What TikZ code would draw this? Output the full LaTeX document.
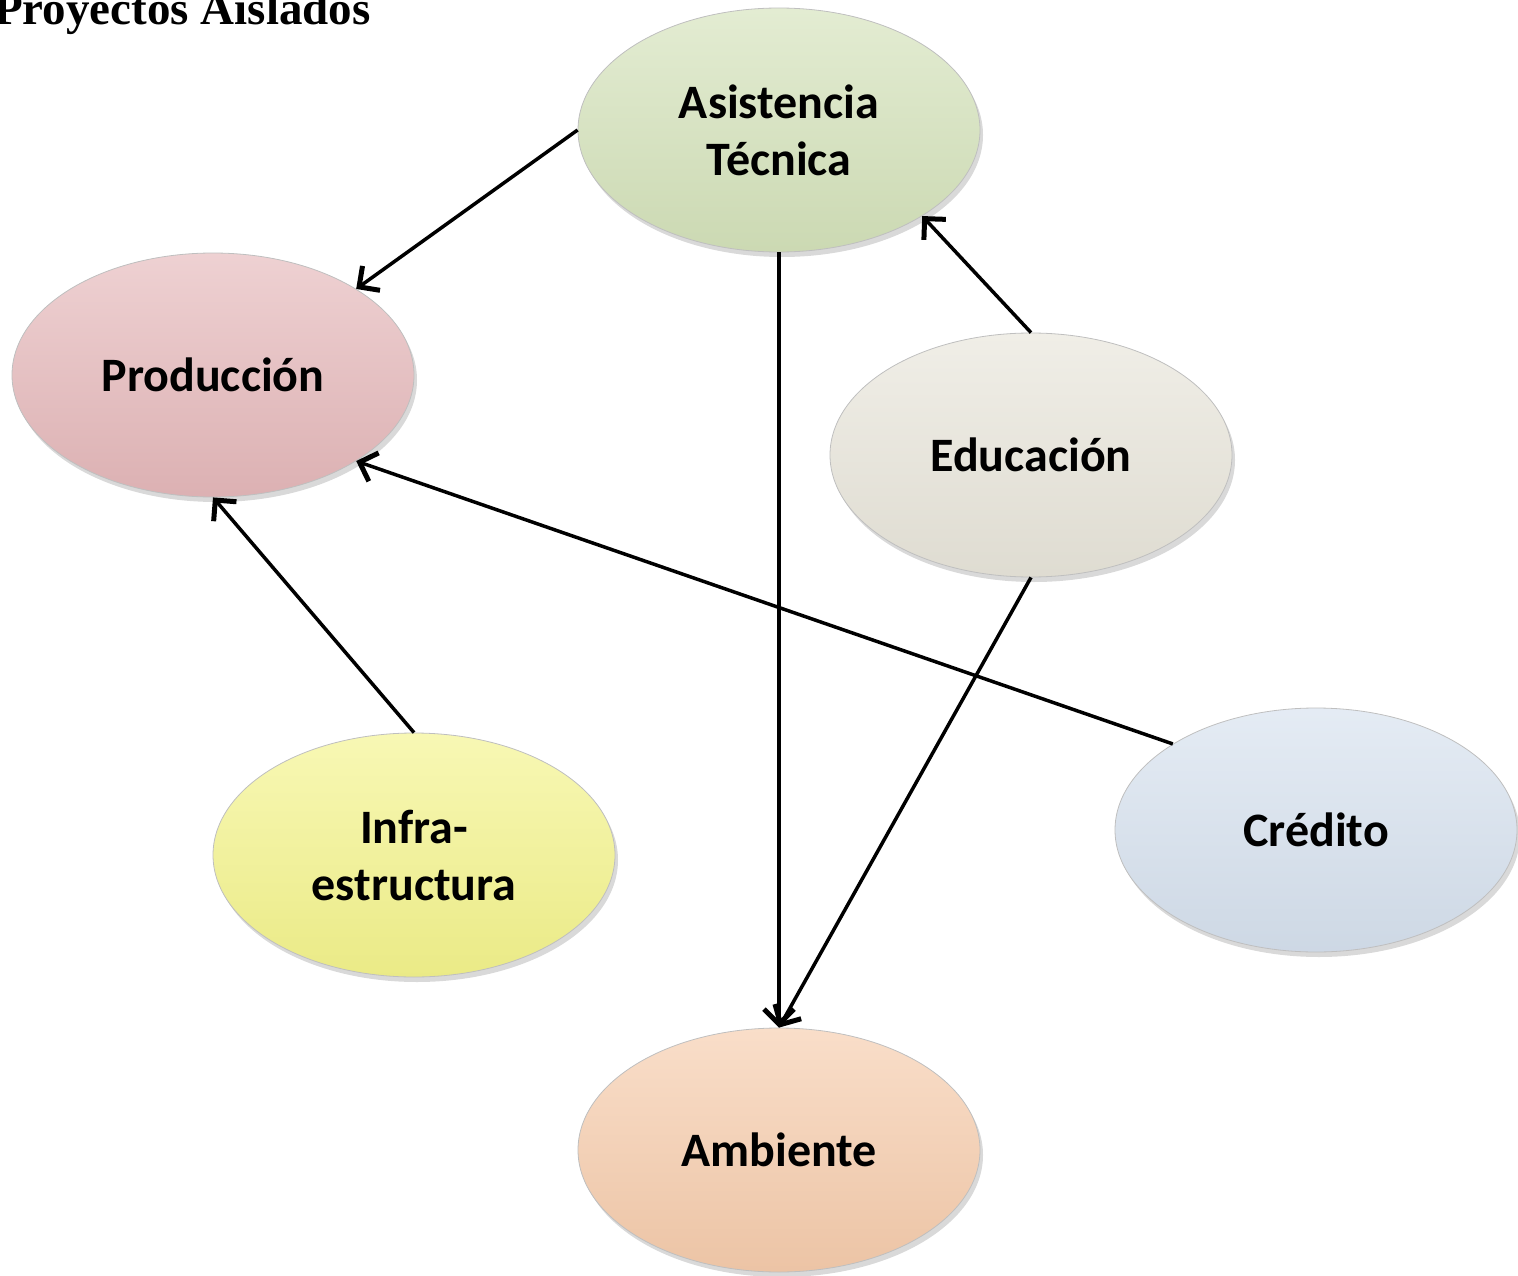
\documentclass[tikz,border=0pt]{standalone}
\usepackage{fontspec}
\setmainfont{Liberation Serif}
\newfontfamily\calib{Carlito}
\usetikzlibrary{shapes.geometric,arrows.meta,shadows}
\definecolor{asisC}{RGB}{212,226,186}
\definecolor{prodC}{RGB}{229,184,186}
\definecolor{eduC}{RGB}{232,229,218}
\definecolor{infC}{RGB}{244,244,140}
\definecolor{credC}{RGB}{214,225,238}
\definecolor{ambC}{RGB}{246,204,172}
\begin{document}
\begin{tikzpicture}[x=1pt,y=-1pt,
  bub/.style={ellipse, minimum width=402pt, minimum height=244pt, inner sep=0pt,
    draw=black!25, line width=0.8pt,
    top color=#1!65!white, middle color=#1, bottom color=#1!96!black,
    drop shadow={shadow xshift=3pt, shadow yshift=-5pt, opacity=0.3},
    font=\calib\bfseries\fontsize{48}{57}\selectfont, align=center},
  conn/.style={line width=3.5pt, -{Straight Barb[length=15pt, width=30pt, line width=5pt]}}]
\useasboundingbox (0,0) rectangle (1518,1276);
\clip (0,0) rectangle (1518,1276);
\node[anchor=base west, inner sep=0pt, font=\bfseries\fontsize{47}{50}\selectfont] (title) at (-6,25) {Proyectos Aislados};
\node[bub=asisC] (asis) at (779,130) {Asistencia\\Técnica};
\node[bub=prodC] (prod) at (213,375) {Producción};
\node[bub=eduC] (edu) at (1031,455) {Educación};
\node[bub=infC] (inf) at (414,855) {Infra-\\estructura};
\node[bub=credC] (cred) at (1316,830) {Crédito};
\node[bub=ambC] (amb) at (779,1150) {Ambiente};
\draw[conn] (asis.west) -- (prod.31);
\draw[conn] (asis.south) -- (amb.north);
\draw[conn] (edu.north) -- (asis.-31);
\draw[conn] (edu.south) -- (amb.north);
\draw[conn] (cred.149) -- (prod.-31);
\draw[conn] (inf.north) -- (prod.south);
\end{tikzpicture}
\end{document}
